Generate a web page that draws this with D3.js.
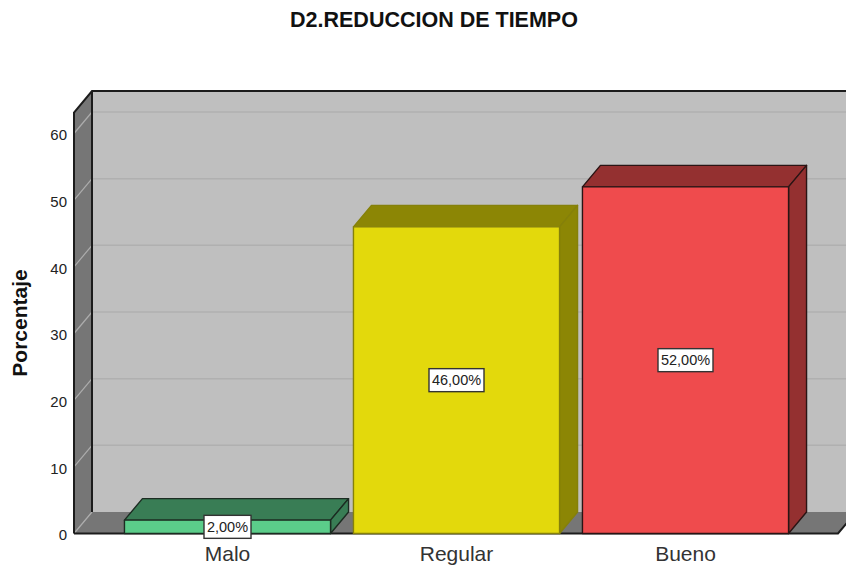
<!DOCTYPE html>
<html>
<head>
<meta charset="utf-8">
<script src="https://cdn.jsdelivr.net/npm/d3@7"></script>
<style>
body { margin: 0; background: #fff; overflow: hidden; }
text { font-family: "Liberation Sans", Arial, sans-serif; }
</style>
</head>
<body>
<div id="chart"></div>
<script>
// data
var categories = ["Malo", "Regular", "Bueno"];
var percents = [2, 46, 52];
var labels = ["2,00%", "46,00%", "52,00%"];
var yTicks = [0, 10, 20, 30, 40, 50, 60];
var frontColors = ["#5bcd8a", "#e3d90c", "#ef4b4d"];
var shadeColors = ["#397d55", "#8c8605", "#943030"];
var edgeColors = ["#1c2c22", "#85800a", "#2a1414"];

var width = 846, height = 565;
var depthX = 18, depthY = 21.5;
var left = 74, right = 838, top3d = 91;

var svg = d3.select("#chart").append("svg")
	.attr("width", width)
	.attr("height", height)
	.style("display", "block");

var y = d3.scaleLinear()
	.domain([0, 60])
	.range([533.5, 133.5]);

var x = d3.scaleBand()
	.domain(categories)
	.range([113, 800])
	.paddingInner(0.1)
	.paddingOuter(0.05);

var pts = function(a) { return a.map(function(p) { return p.join(","); }).join(" "); };
var floorY = y(0);

// back wall
svg.append("rect")
	.attr("x", left + depthX)
	.attr("y", top3d)
	.attr("width", width)
	.attr("height", floorY - depthY - top3d)
	.attr("fill", "#bfbfbf");

// left wall
svg.append("polygon")
	.attr("points", pts([[left, floorY], [left + depthX, floorY - depthY], [left + depthX, top3d], [left, top3d + depthY]]))
	.attr("fill", "#767676");

// floor
svg.append("polygon")
	.attr("points", pts([[left, floorY], [right, floorY], [right + depthX, floorY - depthY], [left + depthX, floorY - depthY]]))
	.attr("fill", "#767676");

// gridlines, on the back wall and slanted over the left wall
var grid = svg.append("g").selectAll("g")
	.data(yTicks.slice(1))
	.enter().append("g");
grid.append("line")
	.attr("x1", left + depthX)
	.attr("x2", width)
	.attr("y1", function(d) { return y(d) - depthY; })
	.attr("y2", function(d) { return y(d) - depthY; })
	.attr("stroke", "#b0b0b0")
	.attr("stroke-width", 1.5);
grid.append("line")
	.attr("x1", left)
	.attr("x2", left + depthX)
	.attr("y1", function(d) { return y(d); })
	.attr("y2", function(d) { return y(d) - depthY; })
	.attr("stroke", "#adadad")
	.attr("stroke-width", 1.2);
svg.append("line")
	.attr("x1", left).attr("x2", left + depthX)
	.attr("y1", floorY).attr("y2", floorY - depthY)
	.attr("stroke", "#adadad").attr("stroke-width", 1.2);

// frame lines
var frame = svg.append("g")
	.attr("fill", "none")
	.attr("stroke", "#1c1c1c")
	.attr("stroke-width", 2);
frame.append("polyline")
	.attr("points", pts([[left, floorY], [left, top3d + depthY], [left + depthX, top3d], [width, top3d]]));
frame.append("polyline")
	.attr("points", pts([[left + depthX, top3d], [left + depthX, floorY - depthY]]));
frame.append("polyline")
	.attr("points", pts([[left, floorY], [right, floorY], [right + depthX, floorY - depthY]]));

// bars
var bars = svg.append("g").selectAll("g")
	.data(categories)
	.enter().append("g")
	.attr("stroke", function(d, i) { return edgeColors[i]; })
	.attr("stroke-width", 1.4)
	.attr("stroke-linejoin", "round");

bars.append("polygon")
	.attr("points", function(d, i) {
		var x0 = x(d), x1 = x0 + x.bandwidth(), t = y(percents[i]);
		return pts([[x0, t], [x0 + depthX, t - depthY], [x1 + depthX, t - depthY], [x1, t]]);
	})
	.attr("fill", function(d, i) { return shadeColors[i]; });

bars.append("polygon")
	.attr("points", function(d, i) {
		var x1 = x(d) + x.bandwidth(), t = y(percents[i]);
		return pts([[x1, t], [x1 + depthX, t - depthY], [x1 + depthX, floorY - depthY], [x1, floorY]]);
	})
	.attr("fill", function(d, i) { return shadeColors[i]; });

bars.append("rect")
	.attr("x", function(d) { return x(d); })
	.attr("y", function(d, i) { return y(percents[i]); })
	.attr("width", x.bandwidth())
	.attr("height", function(d, i) { return floorY - y(percents[i]); })
	.attr("fill", function(d, i) { return frontColors[i]; });

// value labels
var tags = svg.append("g").selectAll("g")
	.data(categories)
	.enter().append("g")
	.attr("transform", function(d, i) {
		return "translate(" + (x(d) + x.bandwidth() / 2) + "," + y(percents[i] / 2) + ")";
	});
tags.append("rect")
	.attr("x", function(d, i) { return i == 0 ? -23.5 : -27.5; })
	.attr("y", -11.5)
	.attr("width", function(d, i) { return i == 0 ? 47 : 55; })
	.attr("height", 23)
	.attr("fill", "#fff")
	.attr("stroke", "#333")
	.attr("stroke-width", 1.4);
tags.append("text")
	.attr("text-anchor", "middle")
	.attr("y", 5)
	.attr("font-size", 14.5)
	.attr("fill", "#222")
	.text(function(d, i) { return labels[i]; });

// axes
var yAxis = svg.append("g")
	.attr("transform", "translate(" + left + ",1.5)")
	.call(d3.axisLeft(y).tickValues(yTicks).tickSize(0).tickPadding(7));
yAxis.select(".domain").remove();
yAxis.selectAll("text")
	.style("font-family", "'Liberation Sans', Arial, sans-serif")
	.attr("font-size", 15)
	.attr("fill", "#222");

var xAxis = svg.append("g")
	.attr("transform", "translate(0," + floorY + ")")
	.call(d3.axisBottom(x).tickSize(0).tickPadding(13));
xAxis.select(".domain").remove();
xAxis.selectAll("text")
	.style("font-family", "'Liberation Sans', Arial, sans-serif")
	.attr("font-size", 21)
	.attr("fill", "#333");

// titles
svg.append("text")
	.attr("x", 434)
	.attr("y", 27)
	.attr("text-anchor", "middle")
	.attr("font-size", 21.5)
	.attr("font-weight", "bold")
	.attr("fill", "#111")
	.text("D2.REDUCCION DE TIEMPO");

svg.append("text")
	.attr("transform", "translate(27,323) rotate(-90)")
	.attr("text-anchor", "middle")
	.attr("font-size", 21)
	.attr("font-weight", "bold")
	.attr("fill", "#111")
	.text("Porcentaje");
</script>
</body>
</html>
